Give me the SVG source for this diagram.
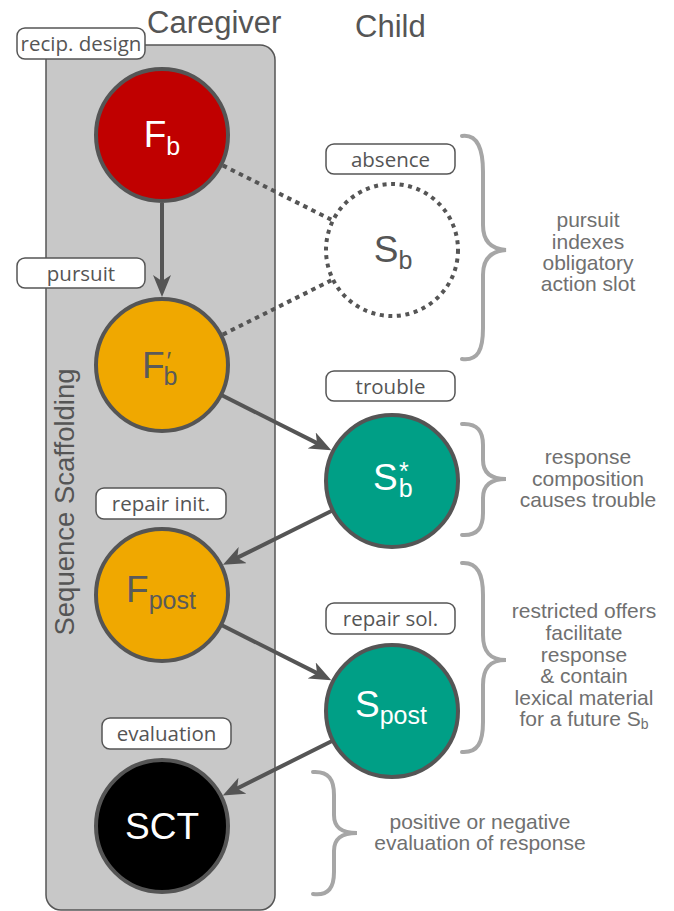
<svg xmlns="http://www.w3.org/2000/svg" width="674" height="911" viewBox="0 0 674 911">
<defs>
<style>
.title{font-family:"Liberation Sans",Arial,sans-serif;font-size:31px;fill:#555}
.lab{font-family:"Open Sans","DejaVu Sans",sans-serif;font-size:20.5px;fill:#555;text-anchor:middle}
.box{fill:#fff;stroke:#555;stroke-width:1.5}
.node{stroke:#555;stroke-width:4}
.nl{font-family:"Liberation Sans",Arial,sans-serif;font-size:37px}
.sub{font-size:25px}
.note{font-family:"Liberation Sans",Arial,sans-serif;font-size:21px;fill:#707070;text-anchor:middle}
.brace{fill:none;stroke:#a6a6a6;stroke-width:4;stroke-linecap:round}
.arr{stroke:#555;stroke-width:4;fill:none}
.dot{stroke:#555;stroke-width:4;stroke-dasharray:4.5 4.5;fill:none}
</style>
<marker id="ah" viewBox="0 0 22 18" refX="11" refY="9" markerWidth="22" markerHeight="18" markerUnits="userSpaceOnUse" orient="auto">
<path d="M0,0 L22,9 L0,18 L6,9 Z" fill="#555"/>
</marker>
</defs>
<rect width="674" height="911" fill="#fff"/>

<g id="lane-caregiver">
<rect x="46" y="45" width="229" height="865" rx="15" fill="#c8c8c8" stroke="#555" stroke-width="1.5"/>
<text class="title" x="147" y="33">Caregiver</text>
<text transform="translate(74,502) rotate(-90)" font-family="Liberation Sans,Arial,sans-serif" font-size="27.5" fill="#555" text-anchor="middle">Sequence Scaffolding</text>
</g>
<text id="lane-child" class="title" x="355" y="37">Child</text>

<g id="connectors">
<line class="dot" x1="222.8" y1="165.4" x2="331.2" y2="219.6"/>
<line class="dot" x1="222.8" y1="334.6" x2="331.2" y2="280.4"/>
<line class="arr" x1="162" y1="203" x2="162" y2="286" marker-end="url(#ah)"/>
<line class="arr" x1="220.9" y1="394.7" x2="321.5" y2="445.4" marker-end="url(#ah)"/>
<line class="arr" x1="332.9" y1="510.3" x2="232.8" y2="559.9" marker-end="url(#ah)"/>
<line class="arr" x1="220.9" y1="624.7" x2="321.5" y2="675.4" marker-end="url(#ah)"/>
<line class="arr" x1="333.0" y1="740.5" x2="232.6" y2="790.7" marker-end="url(#ah)"/>
</g>

<g id="Fb">
<circle class="node" cx="162" cy="135" r="66" fill="#c00000"/>
<text class="nl" x="162" y="147" fill="#fff" text-anchor="middle">F<tspan class="sub" dy="8">b</tspan></text>
</g>
<g id="Sb">
<circle cx="392" cy="250" r="66" fill="#fff" stroke="#555" stroke-width="4" stroke-dasharray="4 4.6"/>
<text class="nl" x="393" y="262" fill="#555" text-anchor="middle">S<tspan class="sub" dy="7">b</tspan></text>
</g>
<g id="Fb-prime">
<circle class="node" cx="162" cy="365" r="66" fill="#f0a800"/>
<text class="nl" x="142" y="378" fill="#5a5a5a">F<tspan class="sub" dx="-1" dy="7">b</tspan><tspan class="sub" dx="-11" dy="-15">′</tspan></text>
</g>
<g id="Sb-star">
<circle class="node" cx="392" cy="481" r="66" fill="#009f86"/>
<text class="nl" x="373" y="490" fill="#fff">S<tspan class="sub" dx="1" dy="7">b</tspan><tspan class="sub" dx="-13.5" dy="-17">*</tspan></text>
</g>
<g id="Fpost">
<circle class="node" cx="162" cy="595" r="66" fill="#f0a800"/>
<text class="nl" x="161" y="602" fill="#5a5a5a" text-anchor="middle">F<tspan class="sub" dy="7">post</tspan></text>
</g>
<g id="Spost">
<circle class="node" cx="392" cy="711" r="66" fill="#009f86"/>
<text class="nl" x="391" y="717" fill="#fff" text-anchor="middle">S<tspan class="sub" dy="7">post</tspan></text>
</g>
<g id="SCT">
<circle class="node" cx="162" cy="826" r="66" fill="#000"/>
<text class="nl" x="162" y="839" fill="#fff" text-anchor="middle">SCT</text>
</g>

<g id="label-recip">
<rect class="box" x="17" y="28" width="128" height="31" rx="8"/>
<text class="lab" x="81" y="50.5">recip. design</text>
</g>
<g id="label-absence">
<rect class="box" x="326" y="144" width="129" height="30" rx="8"/>
<text class="lab" x="390.5" y="166.5">absence</text>
</g>
<g id="label-pursuit">
<rect class="box" x="17" y="258" width="128" height="30" rx="8"/>
<text class="lab" x="81" y="280.5">pursuit</text>
</g>
<g id="label-trouble">
<rect class="box" x="326" y="371" width="129" height="30" rx="8"/>
<text class="lab" x="390.5" y="393.5">trouble</text>
</g>
<g id="label-repair-init">
<rect class="box" x="96" y="488" width="130" height="31" rx="8"/>
<text class="lab" x="161" y="510.5">repair init.</text>
</g>
<g id="label-repair-sol">
<rect class="box" x="326" y="603" width="129" height="31" rx="8"/>
<text class="lab" x="390.5" y="625.5">repair sol.</text>
</g>
<g id="label-evaluation">
<rect class="box" x="102" y="718" width="129" height="31" rx="8"/>
<text class="lab" x="166.5" y="740.5">evaluation</text>
</g>

<g id="note-1">
<path class="brace" d="M462,136 C478,134 483,150 483,172 L483,225 C483,240 490,249 506,250 C490,251 483,260 483,275 L483,328 C483,350 478,361 462,359"/>
<text class="note"><tspan x="588" y="227">pursuit</tspan><tspan x="588" y="248.5">indexes</tspan><tspan x="588" y="270">obligatory</tspan><tspan x="588" y="291">action slot</tspan></text>
</g>
<g id="note-2">
<path class="brace" d="M462,424 C478,423 483,432 483,445 L483,460 C483,472 490,479 506,479 C490,479 483,486 483,498 L483,513 C483,527 478,536 462,535"/>
<text class="note"><tspan x="588" y="464">response</tspan><tspan x="588" y="485.5">composition</tspan><tspan x="588" y="507">causes trouble</tspan></text>
</g>
<g id="note-3">
<path class="brace" d="M462,563 C478,562 483,575 483,595 L483,635 C483,652 490,660 506,660 C490,660 483,668 483,685 L483,722 C483,742 478,753 462,752"/>
<text class="note"><tspan x="584" y="618">restricted offers</tspan><tspan x="584" y="640">facilitate</tspan><tspan x="584" y="661.5">response</tspan><tspan x="584" y="683">&amp; contain</tspan><tspan x="584" y="704.5">lexical material</tspan><tspan x="584" y="726">for a future S<tspan font-size="14" dy="3">b</tspan></tspan></text>
</g>
<g id="note-4">
<path class="brace" d="M313,772 C329,771 334,780 334,795 L334,815 C334,827 341,833 357,833 C341,833 334,839 334,851 L334,872 C334,887 329,896 313,894"/>
<text class="note"><tspan x="480" y="829">positive or negative</tspan><tspan x="480" y="850">evaluation of response</tspan></text>
</g>
</svg>
